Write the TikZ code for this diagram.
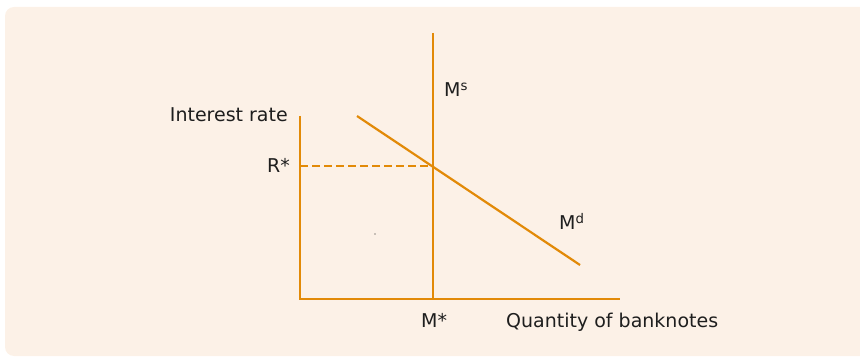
\documentclass[tikz,border=0pt]{standalone}
\usepackage{fontspec}
\setmainfont{DejaVu Sans}
\usetikzlibrary{positioning}
\definecolor{panelbg}{RGB}{252,241,231}
\definecolor{curve}{RGB}{226,138,8}
\definecolor{labeltext}{RGB}{30,30,30}

\begin{document}
\begin{tikzpicture}[
    x=1pt, y=-1pt,
    font=\fontsize{19}{22}\selectfont,
    axis/.style={curve, line width=2.2pt},
    schedule/.style={curve, line width=2.2pt},
    guide/.style={curve, line width=1.8pt, dash pattern=on 8pt off 4pt},
    lbl/.style={text=labeltext, inner sep=0pt},
  ]
  % --- panel ---
  \useasboundingbox (0,0) rectangle (860,358);
  \fill[panelbg, rounded corners=9pt] (5,7) rectangle (880,356);

  % --- axis corners and curve ends ---
  \coordinate (o) at (300,299);
  \coordinate (ytop) at (300,116);
  \coordinate (xend) at (620,299);
  \coordinate (mstop) at (433,33);
  \coordinate (msbot) at (433,299);
  \coordinate (mdtop) at (357,116);
  \coordinate (mdbot) at (580,265);
  \coordinate (rstar) at (300,166);
  \coordinate (eq) at (433,166);

  % --- axes ---
  \draw[axis] (ytop) -- (o) -- (xend);

  % --- money supply and demand ---
  \draw[schedule] (mstop) -- (msbot);
  \draw[schedule] (mdtop) -- (mdbot);

  % --- equilibrium rate ---
  \draw[guide] (rstar) -- (eq);

  % --- labels ---
  \node[lbl, anchor=base east] (ylab) at (288,122) {Interest rate};
  \node[lbl, anchor=base east] (rlab) at (290,173) {R*};
  \node[lbl, anchor=base west] (mslab) at (444,97) {M\textsuperscript{s}};
  \node[lbl, anchor=base west] (mdlab) at (559,230) {M\textsuperscript{d}};
  \node[lbl, anchor=base west] (mlab) at (421,327) {M*};
  \node[lbl, anchor=base west] (xlab) at (506,327) {Quantity of banknotes};

  % --- stray speck ---
  \fill[labeltext] (375,234) circle (0.7pt);
\end{tikzpicture}
\end{document}
